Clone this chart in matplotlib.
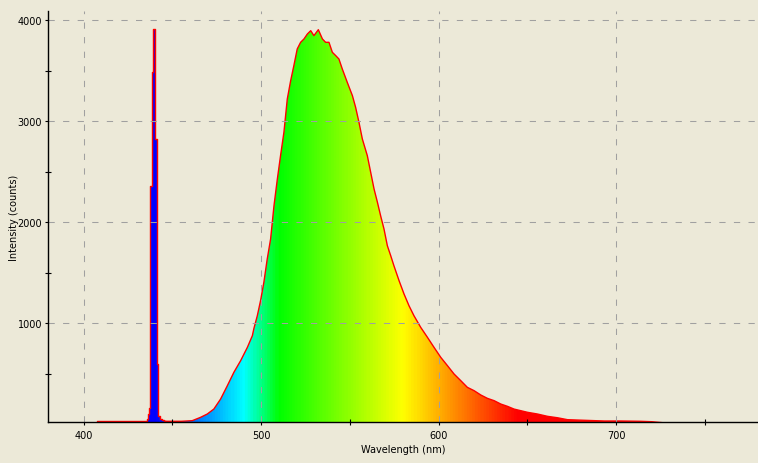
import numpy as np
import matplotlib

matplotlib.use("Agg")
import matplotlib.pyplot as plt
from matplotlib.colors import LinearSegmentedColormap
from matplotlib.ticker import MultipleLocator

# ---------------------------------------------------------------------------
# Data
# ---------------------------------------------------------------------------

# excitation (laser) line + baseline left of the emission band
LASER_NM = [380, 405, 410, 430, 435.1, 435.7, 436.2, 436.8, 437.3, 437.9,
            438.5, 439.0, 439.6, 440.2, 440.7, 441.3, 441.8, 442.4, 443.0,
            443.6, 444.5, 446.0]
LASER_COUNTS = [5, 5, 30, 30, 35, 52, 102, 161, 558, 2362,
                3491, 3914, 3914, 2825, 2825, 597, 300, 85, 52,
                52, 40, 30]

# phosphor emission band
EMIS_NM = [446.0, 455.0, 461.1, 465.8, 469.6, 473.3, 477.1, 480.9, 484.6,
           488.4, 492.2, 495.0, 495.9, 497.8, 499.7, 501.5, 503.4, 505.3,
           507.2, 509.1, 510.9, 512.8, 514.7, 516.6, 518.4, 520.3, 522.2,
           524.1, 526.0, 527.9, 529.7, 532.2, 534.5, 536.3, 538.2, 540.1,
           542.0, 543.8, 545.7, 548.5, 551.4, 553.2, 555.1, 557.0, 559.8,
           561.7, 563.6, 565.5, 567.3, 569.2, 571.1, 573.0, 574.8, 577.7,
           580.5, 583.3, 586.1, 589.9, 593.7, 597.4, 601.2, 605.0, 608.7,
           612.5, 616.2, 620.0, 623.8, 627.5, 631.3, 635.0, 638.8, 642.5,
           646.3, 650.1, 655.7, 661.4, 667.0, 672.6, 682.0, 693.3, 702.7,
           713.9, 720.0, 730.0, 780.0]
EMIS_COUNTS = [30, 30, 36, 69, 102, 151, 250, 382, 515,
               630, 762, 877, 950, 1075, 1230, 1406, 1637, 1835,
               2164, 2429, 2660, 2891, 3221, 3402, 3551, 3716, 3782,
               3815, 3864, 3897, 3848, 3907, 3815, 3782, 3782, 3683,
               3650, 3617, 3518, 3386, 3254, 3139, 2990, 2825, 2660,
               2495, 2330, 2198, 2065, 1934, 1768, 1669, 1570, 1422,
               1290, 1174, 1075, 960, 861, 762, 663, 580, 498,
               432, 366, 333, 290, 257, 234, 201, 178, 151,
               135, 119, 102, 79, 65, 46, 40, 33, 33,
               30, 26, 10, 5]

X_MAJOR = [400, 500, 600, 700]
Y_MAJOR = [1000, 2000, 3000, 4000]

# wavelength -> visible colour stops used for the fill
SPECTRUM_NM = [380, 440, 490, 510, 580, 645, 780]
SPECTRUM_RGB = ["#6000FF", "#0000FF", "#00FFFF", "#00FF00",
                "#FFFF00", "#FF0000", "#FF0000"]

_BG = "#ECE9D8"
_GRID = "#A0A0A0"
XLIM = (380, 780)
YLIM = (23, 4092)


def _spectrum_cmap():
    lo, hi = SPECTRUM_NM[0], SPECTRUM_NM[-1]
    stops = [((w - lo) / (hi - lo), c) for w, c in zip(SPECTRUM_NM, SPECTRUM_RGB)]
    return LinearSegmentedColormap.from_list("visible", stops)


def _gradient_fill(ax, x, y, step=None):
    """Fill under (x, y) with the wavelength colour gradient."""
    poly = ax.fill_between(x, YLIM[0] - 50, y, step=step,
                           facecolor="none", edgecolor="none")
    grad = np.linspace(0, 1, 800).reshape(1, -1)
    im = ax.imshow(grad, cmap=_spectrum_cmap(), aspect="auto",
                   extent=(SPECTRUM_NM[0], SPECTRUM_NM[-1], YLIM[0] - 50, YLIM[1]),
                   origin="lower", zorder=1, interpolation="bilinear")
    im.set_clip_path(poly.get_paths()[0], transform=ax.transData)


def main() -> None:
    fig = plt.figure(figsize=(7.58, 4.64), dpi=100, facecolor=_BG)
    ax = fig.add_axes([48.3 / 758, 41 / 464, 1 - 48.3 / 758, 411 / 464])
    ax.set_facecolor(_BG)

    _gradient_fill(ax, LASER_NM, LASER_COUNTS, step="mid")
    _gradient_fill(ax, EMIS_NM, EMIS_COUNTS)

    ax.plot(LASER_NM, LASER_COUNTS, drawstyle="steps-mid",
            color="#FF0000", lw=1.0, zorder=2)
    ax.plot(EMIS_NM, EMIS_COUNTS, color="#FF0000", lw=1.0, zorder=2)

    ax.set_xlim(*XLIM)
    ax.set_ylim(*YLIM)

    ax.set_xticks(X_MAJOR)
    ax.set_yticks(Y_MAJOR)
    ax.xaxis.set_minor_locator(MultipleLocator(50))
    ax.yaxis.set_minor_locator(MultipleLocator(500))
    ax.tick_params(which="major", direction="out", length=2.5, width=0.8,
                   labelsize=7, pad=2)
    ax.tick_params(axis="x", which="major", pad=3)
    ax.tick_params(which="minor", direction="inout", length=4, width=0.8)

    ax.set_axisbelow(False)
    ax.grid(True, which="major", color=_GRID, lw=0.75,
            linestyle=(0, (6, 8)))

    for side in ("top", "right"):
        ax.spines[side].set_visible(False)
    for side in ("left", "bottom"):
        ax.spines[side].set_linewidth(1.0)
        ax.spines[side].set_zorder(4)

    ax.set_xlabel("Wavelength (nm)", fontsize=7, labelpad=3)
    ax.set_ylabel("Intensity (counts)", fontsize=7, labelpad=-1)

    fig.savefig("out.png", dpi=100, facecolor=_BG)
    plt.close(fig)


if __name__ == "__main__":
    main()
